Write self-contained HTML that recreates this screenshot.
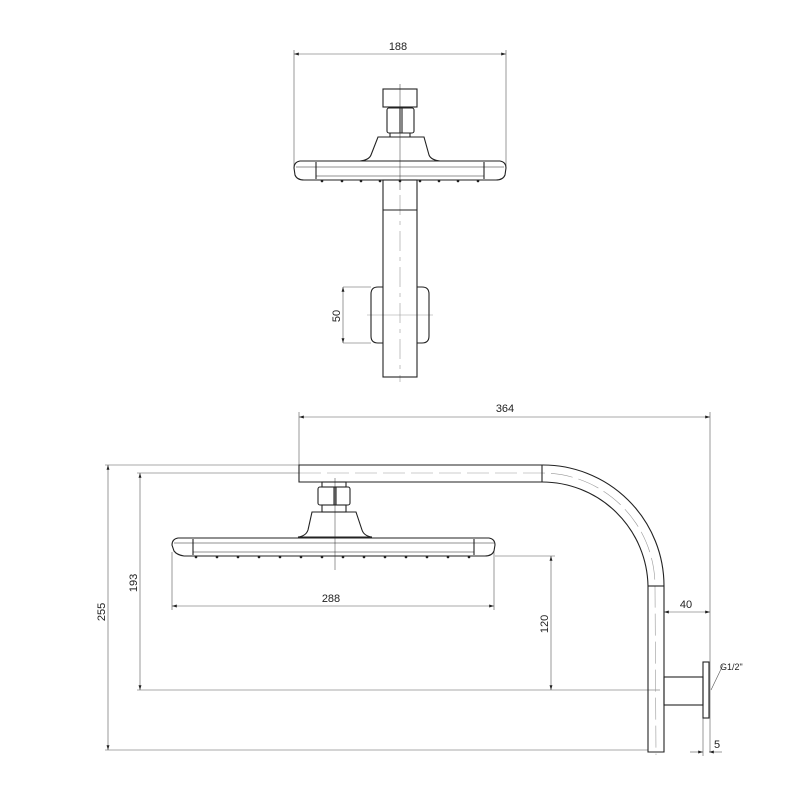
<!DOCTYPE html>
<html><head><style>html,body{margin:0;padding:0;background:#fff}svg{display:block}</style></head><body>
<svg width="800" height="800" viewBox="0 0 800 800" xmlns="http://www.w3.org/2000/svg" font-family="Liberation Sans, sans-serif" font-size="11" fill="none" stroke="#222">
<defs>
<marker id="a" viewBox="0 0 10 6" refX="10" refY="3" markerWidth="8" markerHeight="5" orient="auto-start-reverse"><path d="M0,0L10,3L0,6z" fill="#222" stroke="none"/></marker>
</defs>
<!-- TOP VIEW -->
<g stroke-width="0.6" stroke="#555">
<line x1="294" y1="50" x2="294" y2="166"/><line x1="506" y1="50" x2="506" y2="166"/>
<line x1="294" y1="54" x2="506" y2="54" marker-start="url(#a)" marker-end="url(#a)"/>
<line x1="400" y1="84" x2="400" y2="190"/>
<line x1="400" y1="195" x2="400" y2="382" stroke="#999" stroke-dasharray="20,6,4,6"/>
<line x1="343" y1="287" x2="371" y2="287"/><line x1="343" y1="343" x2="371" y2="343"/>
<line x1="343" y1="287" x2="343" y2="343" marker-start="url(#a)" marker-end="url(#a)"/>
<line x1="367" y1="315" x2="433" y2="315" stroke="#999"/>
</g>
<text x="398" y="50" fill="#222" stroke="none" text-anchor="middle">188</text>
<text transform="translate(340,316) rotate(-90)" fill="#222" stroke="none" text-anchor="middle">50</text>
<g stroke-width="1.1">
<rect x="383" y="89" width="34" height="18"/>
<rect x="387" y="108" width="27" height="25" rx="2"/>
<line x1="400" y1="108" x2="400" y2="133"/><line x1="402" y1="108" x2="402" y2="133"/>
<path d="M390,133 L390,137 L410,137 L410,133"/>
<path d="M378,137 L424,137 L429,155 Q431,160 440,161 L360,161 Q369,160 371,155 Z"/>
<path d="M300,161 L500,161 Q506,162 506,168 L505,175 Q503,180 496,180 L304,180 Q297,180 295,175 L294,168 Q294,162 300,161 Z"/>
<line x1="316" y1="162" x2="316" y2="179"/><line x1="484" y1="162" x2="484" y2="179"/>
<line x1="296" y1="167" x2="504" y2="167" stroke-width="0.6"/>
<line x1="316" y1="176" x2="484" y2="176" stroke-width="0.6"/>
<rect x="383" y="180" width="34" height="197"/>
<line x1="383" y1="210" x2="417" y2="210"/>
<path d="M383,287 L378,287 Q371,287 371,294 L371,336 Q371,343 378,343 L383,343"/>
<path d="M417,287 L422,287 Q429,287 429,294 L429,336 Q429,343 422,343 L417,343"/>
</g>
<g fill="#222" stroke="none">
<circle cx="322" cy="181" r="1.3"/><circle cx="342" cy="181" r="1.3"/><circle cx="361" cy="181" r="1.3"/><circle cx="380" cy="181" r="1.3"/><circle cx="400" cy="181" r="1.3"/><circle cx="420" cy="181" r="1.3"/><circle cx="439" cy="181" r="1.3"/><circle cx="458" cy="181" r="1.3"/><circle cx="478" cy="181" r="1.3"/>
</g>
<!-- SIDE VIEW dims -->
<g stroke-width="0.6" stroke="#555">
<line x1="299" y1="412" x2="299" y2="465"/><line x1="710" y1="412" x2="710" y2="752"/>
<line x1="299" y1="417" x2="710" y2="417" marker-start="url(#a)" marker-end="url(#a)"/>
<line x1="105" y1="465" x2="299" y2="465"/>
<line x1="105" y1="750" x2="648" y2="750"/>
<line x1="108" y1="465" x2="108" y2="750" marker-start="url(#a)" marker-end="url(#a)"/>
<line x1="137" y1="473" x2="299" y2="473"/>
<line x1="137" y1="690" x2="660" y2="690"/>
<line x1="140" y1="473" x2="140" y2="690" marker-start="url(#a)" marker-end="url(#a)"/>
<line x1="172" y1="552" x2="172" y2="610"/><line x1="494" y1="552" x2="494" y2="610"/>
<line x1="172" y1="606" x2="494" y2="606" marker-start="url(#a)" marker-end="url(#a)"/>
<line x1="495" y1="556" x2="555" y2="556"/>
<line x1="551" y1="556" x2="551" y2="690" marker-start="url(#a)" marker-end="url(#a)"/>
<line x1="664" y1="612" x2="710" y2="612" marker-start="url(#a)" marker-end="url(#a)"/>
<line x1="703" y1="718" x2="703" y2="756"/>
<line x1="690" y1="752" x2="703" y2="752" marker-end="url(#a)"/>
<line x1="722" y1="752" x2="709" y2="752" marker-end="url(#a)"/>
<line x1="723" y1="665" x2="711" y2="690"/>
<line x1="335" y1="478" x2="335" y2="570"/>
<path d="M299,473 L542,473 A113,113 0 0 1 655,586 L656,755" stroke="#999" stroke-dasharray="22,6"/>
</g>
<g fill="#222" stroke="none">
<text x="505" y="412" text-anchor="middle">364</text>
<text transform="translate(105,612) rotate(-90)" text-anchor="middle">255</text>
<text transform="translate(137,583) rotate(-90)" text-anchor="middle">193</text>
<text x="331" y="602" text-anchor="middle">288</text>
<text transform="translate(548,624) rotate(-90)" text-anchor="middle">120</text>
<text x="686" y="608" text-anchor="middle">40</text>
<text x="717" y="748" text-anchor="middle">5</text>
<text x="720" y="670" font-size="9">G1/2"</text>
</g>
<g stroke-width="1.1">
<path d="M299,465 L542,465 A121,121 0 0 1 664,586 L664,752 L648,752 L648,586 A106,106 0 0 0 542,482 L299,482 Z"/>
<line x1="542" y1="465" x2="542" y2="482"/>
<line x1="648" y1="586" x2="664" y2="586"/>
<rect x="664" y="677" width="39" height="28"/>
<rect x="703" y="662" width="6" height="56"/>
<rect x="322" y="482" width="24" height="5"/>
<rect x="318" y="487" width="32" height="18" rx="2"/>
<line x1="334" y1="487" x2="334" y2="505"/><line x1="336" y1="487" x2="336" y2="505"/>
<rect x="322" y="505" width="24" height="7"/>
<path d="M312,512 L356,512 L362,530 Q364,536 372,537 L298,537 Q306,536 308,530 Z"/>
<path d="M178,538 L489,538 Q495,539 495,545 L494,551 Q492,556 485,556 L184,556 Q177,555 174,551 L172,545 Q172,539 178,538 Z"/>
<line x1="193" y1="539" x2="193" y2="555"/><line x1="474" y1="539" x2="474" y2="555"/>
<line x1="174" y1="543" x2="494" y2="543" stroke-width="0.6"/>
<line x1="193" y1="552" x2="474" y2="552" stroke-width="0.6"/>
</g>
<g fill="#222" stroke="none">
<circle cx="196" cy="557" r="1.3"/><circle cx="217" cy="557" r="1.3"/><circle cx="238" cy="557" r="1.3"/><circle cx="259" cy="557" r="1.3"/><circle cx="280" cy="557" r="1.3"/><circle cx="301" cy="557" r="1.3"/><circle cx="322" cy="557" r="1.3"/><circle cx="343" cy="557" r="1.3"/><circle cx="364" cy="557" r="1.3"/><circle cx="385" cy="557" r="1.3"/><circle cx="406" cy="557" r="1.3"/><circle cx="427" cy="557" r="1.3"/><circle cx="448" cy="557" r="1.3"/><circle cx="469" cy="557" r="1.3"/>
</g>
</svg>
</body></html>
